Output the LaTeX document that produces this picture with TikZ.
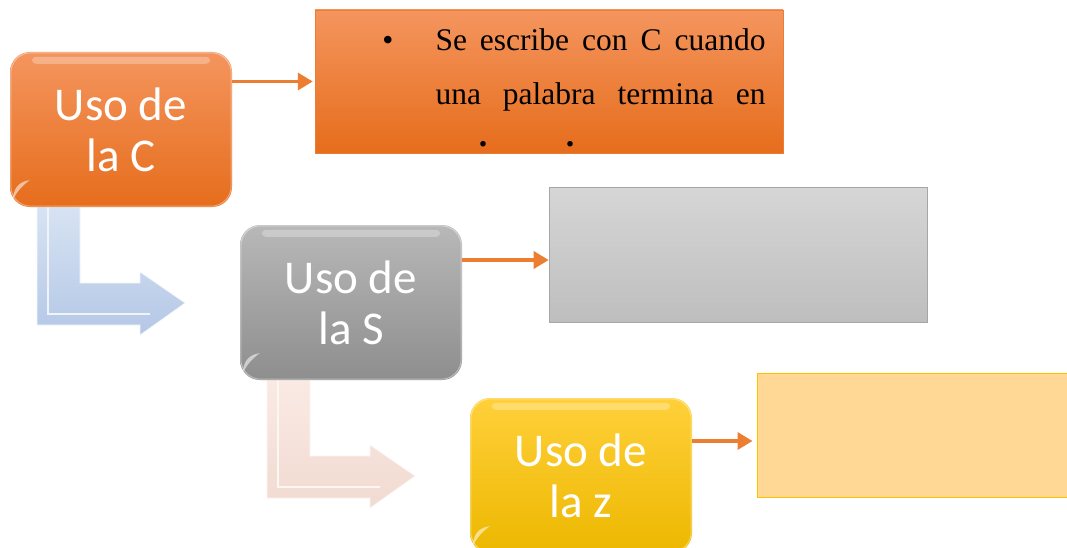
\documentclass[tikz,border=0pt]{standalone}
\usepackage{fontspec}
\setmainfont{Liberation Serif}
\newfontfamily\boxfont{Carlito}
\usetikzlibrary{arrows.meta,calc}
\definecolor{orA}{HTML}{F4955E}
\definecolor{orB}{HTML}{E66D1C}
\definecolor{orline}{HTML}{ED7D31}
\definecolor{grA}{HTML}{B8B8B8}
\definecolor{grB}{HTML}{8E8E8E}
\definecolor{yeA}{HTML}{FFD03A}
\definecolor{yeB}{HTML}{EDB800}
\definecolor{rgA}{HTML}{D6D6D6}
\definecolor{rgB}{HTML}{BEBEBE}
\definecolor{ryfill}{HTML}{FED894}
\definecolor{ryline}{HTML}{FFC000}
\definecolor{blA}{HTML}{D7E3F3}
\definecolor{blB}{HTML}{B4C7E6}
\definecolor{pkA}{HTML}{FAEAE4}
\definecolor{pkB}{HTML}{F1DAD1}
\tikzset{
  labelbox/.style={rounded corners=20pt, minimum width=222pt, minimum height=155pt,
    inner sep=0pt, align=center, text=white,
    font=\boxfont\fontsize{47}{51}\selectfont},
  conn/.style={draw=orline, line width=3.5pt, -{Triangle[length=15pt,width=17pt]}},
  bentarrow/.style={line width=0.6pt},
  serif/.style={font=\fontsize{31.5}{36}\selectfont},
  dotmark/.style={font=\fontsize{34}{36}\selectfont\bfseries}
}
\begin{document}
\begin{tikzpicture}[x=1pt,y=-1pt]
\clip (0,0) rectangle (1067,548);
\fill[white] (0,0) rectangle (1067,548);

% bent arrows (decorative)
\shade[top color=blA, bottom color=blB, draw=white!70!blA, bentarrow]
  (37,207) -- (80,207) -- (80,283) -- (140,283) -- (140,272) -- (185,303)
  -- (140,335) -- (140,325) -- (37,325) -- cycle;
\draw[white!60!blA, line width=1.2pt] (48,207) -- (48,314) -- (150,314);
\shade[top color=pkA, bottom color=pkB, draw=white!60!pkA, bentarrow]
  (267,380) -- (310,380) -- (310,456) -- (370,456) -- (370,445) -- (415,476)
  -- (370,508) -- (370,498) -- (267,498) -- cycle;
\draw[white!60!pkA, line width=1.2pt] (278,380) -- (278,487) -- (380,487);

% right rectangles
\node[draw=orB!60!orA, line width=0.5pt, top color=orA, bottom color=orB,
  minimum width=468pt, minimum height=143pt, inner sep=0pt] (rc) at (549,81.5) {};
\node[draw=gray!70, line width=0.6pt, top color=rgA, bottom color=rgB,
  minimum width=378pt, minimum height=135pt, inner sep=0pt] (sr) at (738,254.5) {};
\node[draw=ryline, line width=1pt, fill=ryfill,
  minimum width=312pt, minimum height=124pt, inner sep=0pt] (zr) at (913,435) {};

% text in the orange rectangle
\node[anchor=base, serif] (bul) at (388,51) {•};
\node[anchor=base west, serif] (l1) at (432,51)
  {\makebox[330pt][s]{Se escribe con C cuando}};
\node[anchor=base west, serif] (l2) at (432,105)
  {\makebox[330pt][s]{una palabra termina en}};
\node[anchor=base, dotmark] (d1) at (483,147) {.};
\node[anchor=base, dotmark] (d2) at (570,147) {.};

% label boxes
\node[labelbox, top color=orA, bottom color=orB] (c) at (121,129.5) {Uso de\\la C};
\node[labelbox, top color=grA, bottom color=grB] (s) at (351,302.5) {Uso de\\la S};
\node[labelbox, top color=yeA, bottom color=yeB] (z) at (581,475.5) {Uso de\\la z};

% bevel highlights
\foreach \b in {c,s,z}{
  \fill[white, opacity=0.28, rounded corners=4pt]
    ($(\b.north west)+(22,5)$) rectangle ($(\b.north east)+(-22,12)$);
  \fill[white, opacity=0.55]
    ($(\b.south west)+(3,-8)$) .. controls ($(\b.south west)+(4,-22)$) and ($(\b.south west)+(12,-26)$) .. ($(\b.south west)+(20,-27)$)
    .. controls ($(\b.south west)+(10,-20)$) and ($(\b.south west)+(7,-14)$) .. ($(\b.south west)+(3,-8)$);
  \draw[white, opacity=0.4, line width=1pt, rounded corners=20pt]
    ($(\b.north west)+(1,1)$) rectangle ($(\b.south east)+(-1,-1)$);
}

% connectors
\draw[conn] (c.east |- rc.west) -- ([xshift=-2pt]rc.west);
\draw[conn] ([yshift=-5.5pt]s.east |- sr.west) -- ([yshift=-5.5pt]sr.west);
\draw[conn] ([yshift=-6pt]z.east |- zr.west) -- ([yshift=-6pt,xshift=-4pt]zr.west);
\end{tikzpicture}
\end{document}
